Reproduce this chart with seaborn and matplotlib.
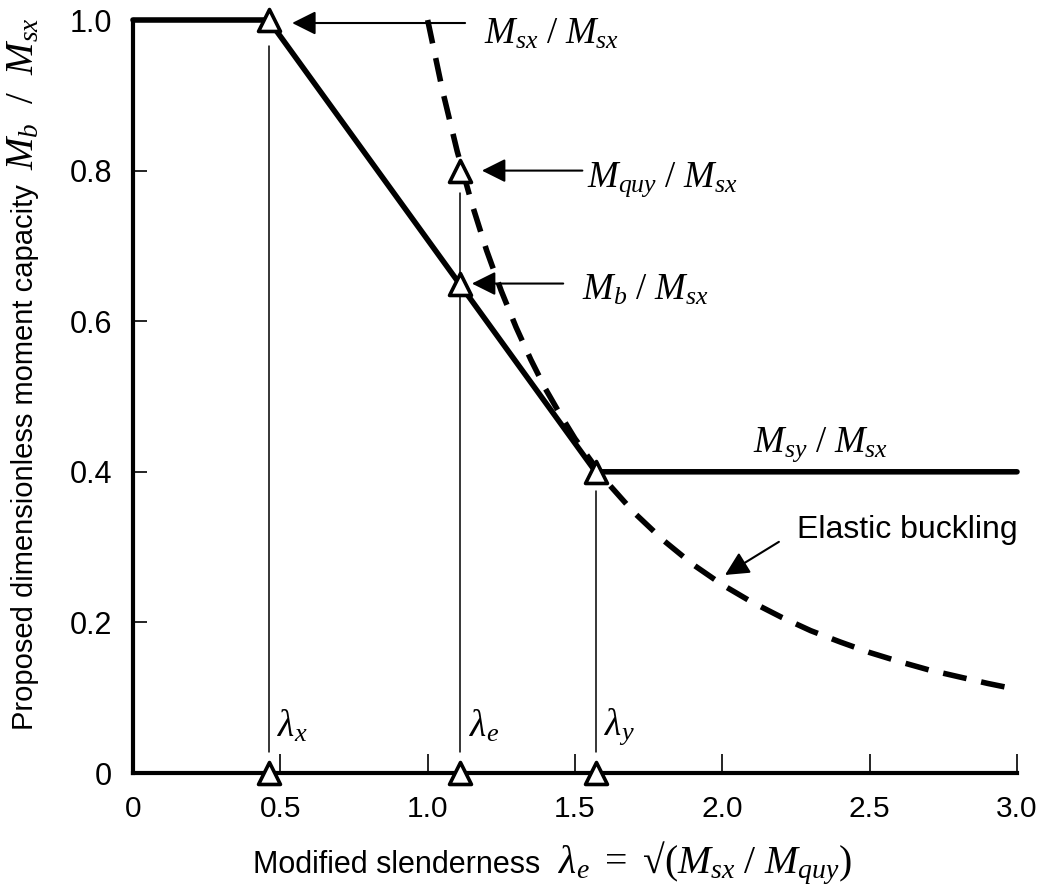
import matplotlib
matplotlib.use("Agg")
import matplotlib.pyplot as plt
import seaborn as sns
import pandas as pd

# Key slenderness values
lam_x = 0.46
lam_e = 1.11
lam_y = 1.57

# Proposed design curve (plateau - linear - plateau)
design_lam = [0.0, lam_x, lam_y, 3.0]
design_m = [1.0, 1.0, 0.4, 0.4]

# Elastic buckling curve
elastic_lam = [1.0, 1.05, 1.1, 1.15, 1.2, 1.25, 1.3, 1.35, 1.4, 1.45, 1.5,
               1.6, 1.7, 1.8, 1.9, 2.0, 2.1, 2.2, 2.3, 2.4, 2.5, 2.6, 2.7,
               2.8, 2.9, 3.0]
elastic_m = [1.0, 0.907, 0.826, 0.756, 0.694, 0.64, 0.592, 0.549, 0.51,
             0.476, 0.444, 0.39, 0.346, 0.309, 0.277, 0.25, 0.227, 0.207,
             0.189, 0.174, 0.16, 0.148, 0.137, 0.128, 0.119, 0.111]

# Marked points
pt_lam = [lam_x, lam_e, lam_e, lam_y, lam_x, lam_e, lam_y]
pt_m = [1.0, 0.8, 0.65, 0.4, 0.0, 0.0, 0.0]

x_ticks = [0, 0.5, 1.0, 1.5, 2.0, 2.5, 3.0]
x_tick_labels = ["0", "0.5", "1.0", "1.5", "2.0", "2.5", "3.0"]
y_ticks = [0, 0.2, 0.4, 0.6, 0.8, 1.0]
y_tick_labels = ["0", "0.2", "0.4", "0.6", "0.8", "1.0"]

sns.set_theme(style="white")
plt.rcParams["font.family"] = ["Liberation Sans", "DejaVu Sans"]
plt.rcParams["mathtext.fontset"] = "custom"
plt.rcParams["mathtext.rm"] = "Liberation Serif"
plt.rcParams["mathtext.it"] = "Liberation Serif:italic"
plt.rcParams["mathtext.bf"] = "Liberation Serif:bold"
for key in ["text.color", "axes.labelcolor", "xtick.color", "ytick.color"]:
    plt.rcParams[key] = "black"

W, H = 1051, 888
fig = plt.figure(figsize=(W / 100, H / 100), dpi=100)
ax = fig.add_axes([133 / W, 1 - 773 / H, (1017 - 133) / W, (773 - 20) / H])

design = pd.DataFrame({"lam": design_lam, "m": design_m})
elastic = pd.DataFrame({"lam": elastic_lam, "m": elastic_m})

# thin vertical guides at the key slenderness values
guide_top = [0.965, 0.77, 0.375]
for lam, top in zip([lam_x, lam_e, lam_y], guide_top):
    ax.plot([lam, lam], [0.028, top], color="black", lw=1.1, zorder=2)

sns.lineplot(data=elastic, x="lam", y="m", ax=ax, color="black", lw=4,
             zorder=3)
ax.lines[-1].set_dashes((4.3, 2.7))
ax.lines[-1].set_clip_on(False)

sns.lineplot(data=design, x="lam", y="m", ax=ax, color="black", lw=4,
             zorder=4)
ax.lines[-1].set_clip_on(False)
ax.lines[-1].set_solid_joinstyle("miter")

pts = pd.DataFrame({"lam": pt_lam, "m": pt_m})
sns.scatterplot(data=pts, x="lam", y="m", ax=ax, marker="^", s=250,
                facecolor="white", edgecolor="black", linewidth=2.6,
                zorder=6)
for coll in ax.collections:
    coll.set_clip_on(False)

ax.set_xlabel("")
ax.set_ylabel("")
ax.set_xlim(0, 3.0)
ax.set_ylim(0, 1.0)
ax.set_xticks(x_ticks)
ax.set_xticklabels(x_tick_labels)
ax.set_yticks(y_ticks)
ax.set_yticklabels(y_tick_labels)
ax.tick_params(axis="x", direction="in", length=14, width=1.2, pad=16,
               labelsize=21.5, color="black", labelcolor="black", bottom=True)
ax.tick_params(axis="y", direction="in", length=10, width=1.2, pad=15,
               labelsize=22, color="black", labelcolor="black", left=True)

for side in ["top", "right"]:
    ax.spines[side].set_visible(False)
for side in ["left", "bottom"]:
    ax.spines[side].set_linewidth(3)
    ax.spines[side].set_color("black")

# axis titles: sans-serif words followed by serif italic symbols
fig.text(253 / W, 1 - 873 / H, "Modified slenderness", fontsize=22,
         ha="left", va="baseline")
fig.text(558 / W, 1 - 873 / H,
         "$\\lambda_e\\ =\\ \u221a(M_{sx}\\ /\\ M_{quy})$",
         fontsize=28.5, ha="left", va="baseline")
fig.text(33 / W, 1 - 730 / H, "Proposed dimensionless moment capacity",
         fontsize=21, rotation=90, rotation_mode="anchor",
         ha="left", va="baseline")
fig.text(33 / W, 1 - 170 / H, r"$M_b\ \ /\ \ M_{sx}$",
         fontsize=28, rotation=90, rotation_mode="anchor",
         ha="left", va="baseline")

# annotation arrows
arrow = dict(arrowstyle="-|>,head_length=0.5,head_width=0.25",
             color="black", lw=1.5, mutation_scale=29, shrinkA=0, shrinkB=0)
ax.annotate("", xy=(0.54, 0.996), xytext=(1.127, 0.996),
            arrowprops=arrow, annotation_clip=False)
ax.annotate("", xy=(1.184, 0.8), xytext=(1.525, 0.8), arrowprops=arrow)
ax.annotate("", xy=(1.15, 0.65), xytext=(1.46, 0.65), arrowprops=arrow)
ax.annotate("", xy=(2.009, 0.263), xytext=(2.192, 0.307), arrowprops=arrow)

mt = dict(fontsize=26.5, color="black")
ax.text(1.19, 0.981, r"$M_{sx}\ /\ M_{sx}$", ha="left", va="center", **mt)
ax.text(1.54, 0.788, r"$M_{quy}\ /\ M_{sx}$", ha="left", va="center", **mt)
ax.text(1.525, 0.641, r"$M_b\ /\ M_{sx}$", ha="left", va="center", **mt)
ax.text(2.335, 0.41, r"$M_{sy}\ /\ M_{sx}$", ha="center", va="bottom", **mt)
ax.text(2.253, 0.323, "Elastic buckling", ha="left", va="center",
        fontsize=23, color="black")

for lam, lab in zip([lam_x, lam_e, lam_y],
                    [r"$\lambda_x$", r"$\lambda_e$", r"$\lambda_y$"]):
    ax.text(lam + 0.03, 0.062, lab, ha="left", va="center",
            fontsize=27, color="black")

fig.savefig("out.png", dpi=100)
